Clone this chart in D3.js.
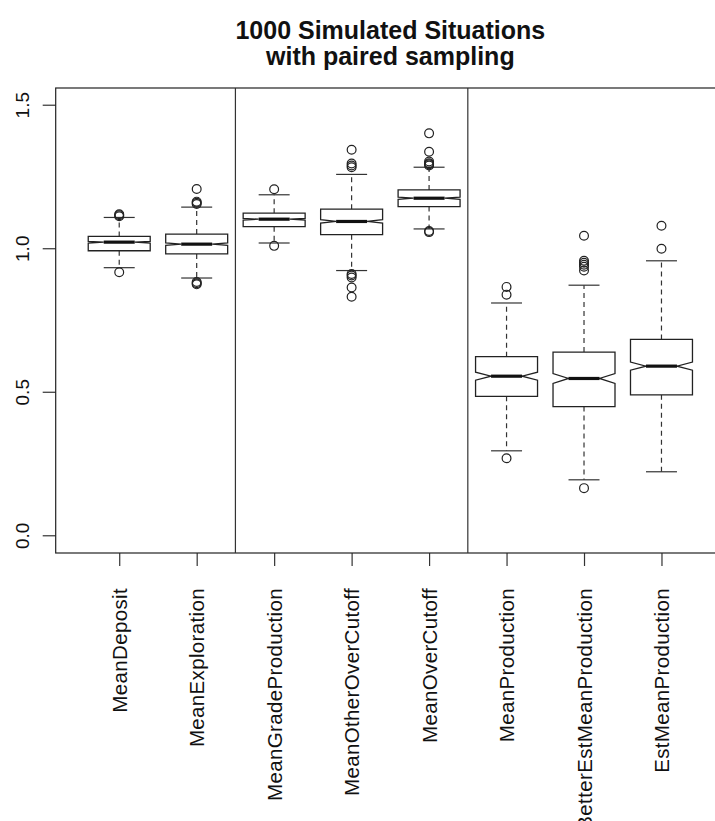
<!DOCTYPE html>
<meta charset="utf-8">
<head>
    <style type="text/css">
        body { margin: 0; background: #fff; }
        text { font-family: "Liberation Sans", Arial, Helvetica, sans-serif; fill: #111; }
        .frame { fill: none; stroke: #222; stroke-width: 1.2; }
        .divider { stroke: #333; stroke-width: 1.2; }
        .box { fill: #fff; stroke: #222; stroke-width: 1.3; }
        .median { stroke: #111; stroke-width: 3.2; }
        .whisker { stroke: #333; stroke-width: 1.2; stroke-dasharray: 5,4; }
        .staple { stroke: #333; stroke-width: 1.2; }
        .outlier { fill: none; stroke: #222; stroke-width: 1.2; }
        .axis path { display: none; }
        .axis line { stroke: #333; stroke-width: 1.2; }
    </style>
</head>
<body>
    <script src="https://cdnjs.cloudflare.com/ajax/libs/d3/7.8.5/d3.min.js"></script>
    <script>
        // data
        var categories = ["MeanDeposit", "MeanExploration", "MeanGradeProduction", "MeanOtherOverCutoff",
            "MeanOverCutoff", "MeanProduction", "BetterEstMeanProduction", "EstMeanProduction"];
        var lowWhisker  = [0.934, 0.898, 1.020, 0.924, 1.069, 0.296, 0.195, 0.223];
        var lowerQuart  = [0.993, 0.982, 1.077, 1.049, 1.147, 0.486, 0.450, 0.491];
        var medians     = [1.023, 1.016, 1.103, 1.095, 1.176, 0.556, 0.548, 0.591];
        var upperQuart  = [1.043, 1.051, 1.124, 1.138, 1.205, 0.624, 0.640, 0.684];
        var highWhisker = [1.109, 1.145, 1.188, 1.259, 1.284, 0.811, 0.873, 0.958];
        var notchHalf   = [0.003, 0.004, 0.003, 0.006, 0.004, 0.014, 0.017, 0.014];
        var outliers = [
            [0.918, 1.113, 1.117, 1.120],
            [0.876, 0.880, 0.884, 1.156, 1.160, 1.164, 1.208],
            [1.010, 1.207],
            [0.833, 0.865, 0.900, 0.907, 0.912, 1.284, 1.290, 1.297, 1.345],
            [1.058, 1.062, 1.290, 1.294, 1.298, 1.304, 1.338, 1.402],
            [0.270, 0.840, 0.867],
            [0.166, 0.924, 0.937, 0.944, 0.951, 0.958, 1.045],
            [1.000, 1.080]
        ];
        var dividers = [2.5, 5.5];
        var yTicks = [0, 0.5, 1, 1.5];
        var titleLines = ["1000 Simulated Situations", "with paired sampling"];

        var width = 715, height = 821;
        var plot = { left: 55.7, right: 725, top: 88, bottom: 553 };

        // R style limits: 0.5..n+0.5 plus 4% and ylim 0..1.5 plus 4%
        var n = categories.length;
        var xScale = d3.scaleLinear()
            .domain([0.5 - 0.04 * n, n + 0.5 + 0.04 * n])
            .range([plot.left, plot.right]);
        var yScale = d3.scaleLinear()
            .domain([-0.06, 1.56])
            .range([plot.bottom, plot.top]);

        var boxData = categories.map(function (c, i) {
            return {
                name: c, pos: i + 1,
                lw: lowWhisker[i], q1: lowerQuart[i], med: medians[i], q3: upperQuart[i],
                uw: highWhisker[i], nh: notchHalf[i], out: outliers[i]
            };
        });

        var svg = d3.select("body").append("svg")
            .attr("width", width)
            .attr("height", height);

        // title
        svg.append("text")
            .attr("text-anchor", "middle")
            .attr("font-weight", "bold")
            .attr("font-size", 25)
            .selectAll("tspan")
            .data(titleLines)
            .enter().append("tspan")
            .attr("x", (plot.left + plot.right) / 2)
            .attr("y", function (d, i) { return 39 + i * 26; })
            .text(function (d) { return d; });

        // y axis
        var yAxis = svg.append("g")
            .attr("class", "axis")
            .attr("transform", "translate(" + plot.left + ",0)")
            .call(d3.axisLeft(yScale).tickValues(yTicks).tickFormat(d3.format(".1f")).tickSize(13));
        yAxis.selectAll("text")
            .attr("font-size", 19)
            .attr("text-anchor", "middle")
            .attr("x", null).attr("dy", null)
            .attr("transform", function (d) { return "translate(-27," + yScale(d) + ") rotate(-90)"; })
            .attr("y", 0);
        yAxis.selectAll(".tick").attr("transform", null);
        yAxis.selectAll(".tick line")
            .attr("y1", function (d) { return yScale(d); })
            .attr("y2", function (d) { return yScale(d); });

        // x axis
        var xAxis = svg.append("g")
            .attr("class", "axis")
            .attr("transform", "translate(0," + plot.bottom + ")")
            .call(d3.axisBottom(xScale).tickValues(d3.range(1, n + 1))
                .tickFormat(function (d) { return categories[d - 1]; }).tickSize(13));
        xAxis.selectAll("text")
            .attr("font-size", 20.5)
            .attr("letter-spacing", 0.35)
            .attr("text-anchor", "end")
            .attr("y", null).attr("dy", null)
            .attr("transform", "translate(7,35) rotate(-90)");

        // plot frame and group dividers
        svg.append("rect")
            .attr("class", "frame")
            .attr("x", plot.left).attr("y", plot.top)
            .attr("width", plot.right - plot.left)
            .attr("height", plot.bottom - plot.top);

        svg.selectAll(".divider")
            .data(dividers)
            .enter().append("line")
            .attr("class", "divider")
            .attr("x1", function (d) { return xScale(d); })
            .attr("x2", function (d) { return xScale(d); })
            .attr("y1", plot.top).attr("y2", plot.bottom);

        // boxplots
        var half = (xScale(1) - xScale(0)) * 0.8 / 2;   // boxwex 0.8
        var g = svg.selectAll(".bp")
            .data(boxData)
            .enter().append("g")
            .attr("class", "bp");

        g.append("line").attr("class", "whisker")
            .attr("x1", function (d) { return xScale(d.pos); })
            .attr("x2", function (d) { return xScale(d.pos); })
            .attr("y1", function (d) { return yScale(d.q3); })
            .attr("y2", function (d) { return yScale(d.uw); });
        g.append("line").attr("class", "whisker")
            .attr("x1", function (d) { return xScale(d.pos); })
            .attr("x2", function (d) { return xScale(d.pos); })
            .attr("y1", function (d) { return yScale(d.q1); })
            .attr("y2", function (d) { return yScale(d.lw); });

        ["uw", "lw"].forEach(function (k) {
            g.append("line").attr("class", "staple")
                .attr("x1", function (d) { return xScale(d.pos) - half / 2; })
                .attr("x2", function (d) { return xScale(d.pos) + half / 2; })
                .attr("y1", function (d) { return yScale(d[k]); })
                .attr("y2", function (d) { return yScale(d[k]); });
        });

        // notched box outline, like R's bxp
        g.append("path").attr("class", "box")
            .attr("d", function (d) {
                var x = xScale(d.pos);
                var xs = [-1, 1, 1, 0.5, 1, 1, -1, -1, -0.5, -1];
                var ys = [d.q1, d.q1, d.med - d.nh, d.med, d.med + d.nh, d.q3, d.q3, d.med + d.nh, d.med, d.med - d.nh];
                return d3.line()(xs.map(function (f, j) { return [x + f * half, yScale(ys[j])]; })) + "Z";
            });

        g.append("line").attr("class", "median")
            .attr("x1", function (d) { return xScale(d.pos) - half / 2; })
            .attr("x2", function (d) { return xScale(d.pos) + half / 2; })
            .attr("y1", function (d) { return yScale(d.med); })
            .attr("y2", function (d) { return yScale(d.med); });

        g.selectAll(".outlier")
            .data(function (d) { return d.out.map(function (v) { return { pos: d.pos, v: v }; }); })
            .enter().append("circle")
            .attr("class", "outlier")
            .attr("cx", function (d) { return xScale(d.pos); })
            .attr("cy", function (d) { return yScale(d.v); })
            .attr("r", 4.4);
    </script>
</body>
